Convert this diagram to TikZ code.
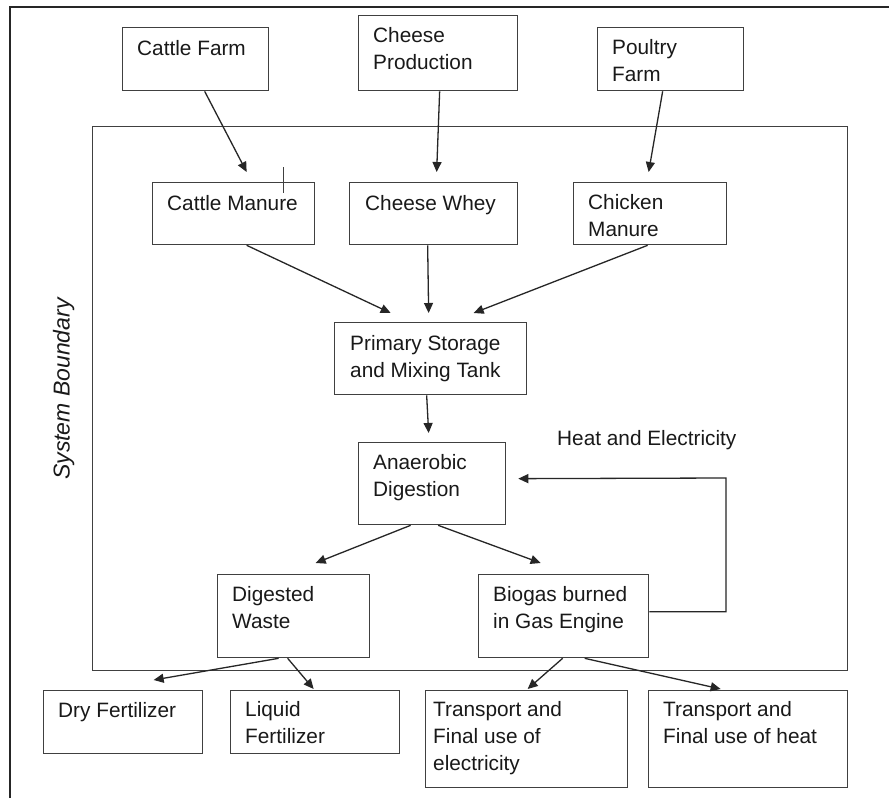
\documentclass[tikz,border=0pt]{standalone}
\usepackage{fontspec}
\setmainfont{Liberation Sans}
\usetikzlibrary{arrows.meta}

% rectangle by its left, top, right and bottom edges (y grows downwards)
\newcommand\flowbox[5]{%
  \node[box, anchor=north west, minimum width={#4pt-#2pt}, minimum height={#5pt-#3pt}] (#1) at (#2,#3) {};}

\begin{document}
\begin{tikzpicture}[x=1pt, y=-1pt,
  box/.style={draw=black!75, line width=1.3pt, inner sep=0pt, fill=none},
  frame/.style={draw=black!85, line width=1.8pt},
  lbl/.style={anchor=north west, inner sep=0pt, align=left,
    font=\fontsize{20.8}{27}\selectfont, text=black!90,
    execute at begin node={\rule{0pt}{16pt}}},
  arr/.style={draw=black!85, line width=1.3pt, -{Triangle[length=10pt,width=9pt]}},
  ]
\useasboundingbox (0,0) rectangle (889,798);
\fill[white] (0,0) rectangle (889,798);

% page frame
\draw[frame] (10,798) -- (10,7) -- (889,7);

% system boundary
\flowbox{sysb}{92}{126}{847}{670}
\node[anchor=base, rotate=90, inner sep=0pt, font=\fontsize{23}{27}\selectfont\itshape, text=black!90]
  (sysb-t) at (69.5,389) {System Boundary};

% sources
\flowbox{cfarm}{122}{27}{268}{90}
\flowbox{cprod}{358}{15}{517}{90}
\flowbox{pfarm}{597}{27}{743}{90}
% feedstocks
\flowbox{cman}{152}{182}{314}{244}
\flowbox{cwhey}{349}{182}{517}{244}
\flowbox{chman}{573}{182}{726}{244}
% process
\flowbox{pst}{334}{322}{526}{394}
\flowbox{ad}{358}{442}{505}{524}
\flowbox{dw}{217}{574}{369}{657}
\flowbox{bio}{478}{574}{648}{657}
% products
\flowbox{dry}{43}{690}{202}{753}
\flowbox{liq}{230}{690}{399}{753}
\flowbox{tel}{425}{690}{627}{787}
\flowbox{theat}{648}{690}{847}{787}

% box texts
\node[lbl] (cfarm-t) at ([shift={(15pt,-12pt)}]cfarm.north west) {Cattle Farm};
\node[lbl] (cprod-t) at ([shift={(15pt,-12pt)}]cprod.north west) {Cheese\\Production};
\node[lbl] (pfarm-t) at ([shift={(15pt,-12pt)}]pfarm.north west) {Poultry\\Farm};
\node[lbl] (cman-t) at ([shift={(15pt,-12pt)}]cman.north west) {Cattle Manure};
\node[lbl] (cwhey-t) at ([shift={(16pt,-12pt)}]cwhey.north west) {Cheese Whey};
\node[lbl] (chman-t) at ([shift={(15pt,-12pt)}]chman.north west) {Chicken\\Manure};
\node[lbl] (pst-t) at ([shift={(16pt,-13pt)}]pst.north west) {Primary Storage\\and Mixing Tank};
\node[lbl] (ad-t) at ([shift={(15pt,-12pt)}]ad.north west) {Anaerobic\\Digestion};
\node[lbl] (dw-t) at ([shift={(15pt,-12pt)}]dw.north west) {Digested\\Waste};
\node[lbl] (bio-t) at ([shift={(15pt,-12pt)}]bio.north west) {Biogas burned\\in Gas Engine};
\node[lbl] (dry-t) at ([shift={(15pt,-11pt)}]dry.north west) {Dry Fertilizer};
\node[lbl] (liq-t) at ([shift={(15pt,-11pt)}]liq.north west) {Liquid\\Fertilizer};
\node[lbl] (tel-t) at ([shift={(8pt,-11pt)}]tel.north west) {Transport and\\Final use of\\electricity};
\node[lbl] (theat-t) at ([shift={(15pt,-11pt)}]theat.north west) {Transport and\\Final use of heat};

% heat and electricity return label
\node[lbl] (he-t) at (557,429) {Heat and Electricity};

% small mark above the cattle manure box
\draw[black!75, line width=1.1pt] ([shift={(50pt,15pt)}]cman.north) -- ([shift={(50pt,-11pt)}]cman.north);

% flows into the boundary
\draw[arr] ([xshift=9pt]cfarm.south) -- ([shift={(13pt,10pt)}]cman.north);
\draw[arr] ([xshift=1.5pt]cprod.south) -- ([shift={(3pt,10pt)}]cwhey.north);
\draw[arr] ([xshift=-8pt]pfarm.south) -- ([shift={(-1.5pt,10pt)}]chman.north);

% feedstocks into storage
\draw[arr] ([xshift=13pt]cman.south) -- ([shift={(-40pt,9pt)}]pst.north);
\draw[arr] ([xshift=-6pt]cwhey.south) -- ([shift={(-2pt,9pt)}]pst.north);
\draw[arr] ([xshift=-2.5pt]chman.south) -- ([shift={(43pt,9pt)}]pst.north);

% storage to digestion and its outputs
\draw[arr] ([xshift=-4pt]pst.south) -- ([shift={(-3.5pt,9pt)}]ad.north);
\draw[arr] ([xshift=-21.5pt]ad.south) -- ([shift={(22pt,11pt)}]dw.north);
\draw[arr] ([xshift=6pt]ad.south) -- ([shift={(-23pt,11pt)}]bio.north);

% return of heat and electricity
\coordinate (fbk) at (726,478);
\draw[arr] ([yshift=4.5pt]bio.east) -| (fbk) -- ([shift={(12pt,5pt)}]ad.east);

% products
\draw[arr] ([xshift=-15pt]dw.south) -- ([shift={(30.5pt,10pt)}]dry.north);
\draw[arr] ([xshift=-6pt]dw.south) -- ([shift={(-1.5pt,1pt)}]liq.north);
\draw[arr] ([xshift=-1pt]bio.south) -- ([shift={(1pt,1pt)}]tel.north);
\draw[arr] ([xshift=21pt]bio.south) -- ([shift={(-27.5pt,1pt)}]theat.north);
\end{tikzpicture}
\end{document}
